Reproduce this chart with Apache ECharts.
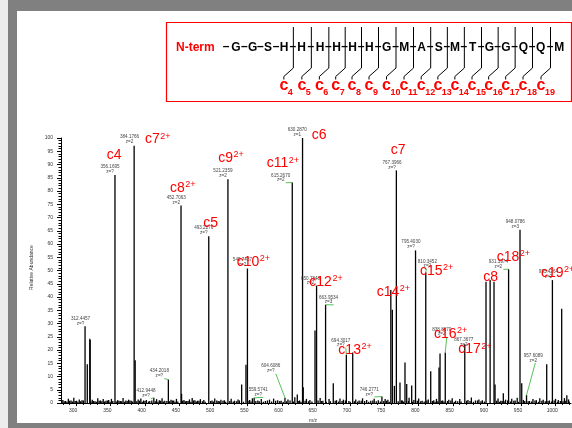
<!DOCTYPE html>
<html><head><meta charset="utf-8">
<script src="https://cdn.jsdelivr.net/npm/echarts@6/dist/echarts.min.js"></script>
<style>html,body{margin:0;padding:0;background:#fff}#c{width:572px;height:428px}</style>
</head><body><div id="c"></div>
<script>
// ---------- DATA ----------
const labeledMz  = [312.4457, 356.1695, 384.1766, 412.9448, 434.2018, 452.7063, 493.2276, 521.2359, 549.7437, 559.5741, 604.6086, 615.2670, 630.2870, 650.7848, 663.9534, 694.3017, 746.2771, 767.3966, 795.4030, 810.3452, 838.8670, 867.3677, 931.3974, 948.0786, 957.6089, 995.4264];
const labeledInt = [29.0, 86.0, 97.1, 2.0, 8.9, 74.5, 62.9, 84.4, 50.8, 2.0, 2.0, 83.2, 100, 44.3, 37.1, 18.2, 2.5, 87.8, 57.6, 49.3, 19.1, 22.2, 50.5, 65.4, 3.0, 46.4];
const labeledZ   = ['z=?','z=?','z=2','z=?','z=?','z=2','z=?','z=2','z=2','z=?','z=?','z=2','z=1','z=2','z=3','z=?','z=?','z=?','z=?','z=2','z=2','z=2','z=2','z=3','z=2','z=2'];

const peakMz  = [315.7, 319.4, 319.9, 385.7, 453.5, 541.3, 547.6, 622.6, 631.3, 648.5, 675.2, 703.6, 759.3, 761.5, 764.5, 772.7, 780.0, 782.5, 789.8, 817.6, 829.7, 831.2, 898.4, 904.4, 910.1, 911.6, 923.7, 950.6, 987.1, 1009.0, 1016.5];
const peakInt = [14.7, 24.3, 23.8, 16.2, 3.5, 7.0, 14.5, 3.2, 6.0, 27.4, 7.5, 19.1, 42.7, 35.2, 6.5, 7.8, 15.3, 7.2, 6.6, 12.0, 13.4, 18.7, 45.8, 46.4, 45.8, 7.0, 3.7, 7.5, 14.7, 35.6, 3.0];

const noiseMz = [280,284,288,292,296,300,304,308,323,327,331,335,339,343,347,351,360,364,368,372,376,380,390,394,398,402,407,417,421,425,429,438,442,446,457,461,465,469,473,477,481,486,498,502,507,511,516,526,531,536,553,557,565,570,576,582,588,594,599,609,619,626,636,641,656,660,669,680,685,690,698,708,713,718,724,730,735,741,751,755,776,786,793,800,805,814,822,826,835,844,849,854,860,872,877,883,888,893,916,920,927,936,941,944,953,962,967,972,977,982,991,1000,1004,1013,1019];
const noiseInt = [1.2,0.8,1.6,1.0,2.0,0.9,1.4,1.1,1.3,0.7,
 1.8,1.0,1.5,0.9,1.2,1.6,1.1,0.8,1.9,1.0,
 1.3,0.9,1.4,1.7,1.0,1.2,0.8,1.5,1.1,1.8,
 0.9,1.3,1.0,1.6,1.2,0.8,1.4,1.9,1.1,0.9,
 1.5,1.2,1.0,1.7,0.8,1.3,1.1,1.6,0.9,1.4,
 1.2,1.8,1.0,1.5,0.8,1.3,1.7,1.1,0.9,1.4,
 2.2,1.0,1.6,1.2,1.9,0.9,1.5,1.1,1.7,1.3,
 0.8,1.4,1.0,1.8,1.2,0.9,1.6,1.1,1.5,1.3,
 1.0,2.0,1.2,1.7,0.9,1.4,1.1,1.6,1.0,1.3,
 1.8,0.9,1.5,1.2,2.1,1.0,1.4,1.1,1.7,0.9,
 1.3,1.6,1.0,2.0,1.2,0.8,1.5,1.1,1.8,1.3,
 1.0,1.6,1.2,1.9,1.4];
const noise2Mz  = [282,286,290,294,298,302,306,310,321,325,329,333,337,341,345,349,353,358,362,366,370,374,378,382,388,392,396,400,405,410,415,419,423,427,432,436,440,444,448,455,459,463,467,471,475,479,484,488,496,500,505,509,514,518,524,529,534,538,544,552,555,562,567,573,579,585,591,597,602,607,612,617,624,628,634,639,644,653,658,665,671,678,683,688,693,700,706,711,716,721,727,733,738,744,749,753,757,770,775,778,785,791,798,803,808,812,820,824,828,833,837,842,847,852,857,862,870,875,880,886,891,896,914,918,922,926,930,934,939,946,955,960,965,970,975,980,985,989,994,998,1003,1007,1011,1015,1020];
const noise2Int = [0.7,0.5,0.9,0.6,0.8,0.5,0.7,1.0,0.6,0.8,
 0.5,0.9,0.7,0.6,1.0,0.5,0.8,0.6,0.9,0.7,
 0.5,0.8,1.0,0.6,0.7,0.9,0.5,0.8,0.6,1.0,
 0.7,0.5,0.9,0.6,0.8,0.7,1.0,0.5,0.6,0.9,
 0.7,0.8,0.5,1.0,0.6,0.9,0.7,0.5,0.8,0.6,
 1.0,0.7,0.9,0.5,0.8,0.6,0.7,1.0,0.5,0.9,
 0.6,0.8,0.7,0.5,1.0,0.6,0.9,0.8,0.5,0.7,
 1.0,0.6,0.8,0.5,0.9,0.7,0.6,1.0,0.8,0.5,
 0.7,0.9,0.6,0.8,1.0,0.5,0.7,0.6,0.9,0.8,
 0.5,1.0,0.7,0.6,0.8,0.9,0.5,0.7,1.0,0.6,
 0.8,0.5,0.9,0.7,0.6,1.0,0.8,0.5,0.7,0.9,
 0.6,0.8,1.0,0.5,0.7,0.6,0.9,0.8,0.5,1.0,
 0.7,0.6,0.9,0.5,0.8,0.7,1.0,0.6,0.9,0.5,
 0.8,0.7,0.6,1.0,0.5,0.9,0.7,0.8,0.6,1.0,
 0.5,0.8,0.7,0.9,0.6];

const ionName = ['c4','c7','c8','c5','c9','c11','c6','c10','c12','c13','c14','c7','c15','c16','c17','c8','c18','c19'];
const ionSup  = ['','2+','2+','','2+','2+','','2+','2+','2+','2+','','2+','2+','2+','','2+','2+'];

const xTickLabels = [300,350,400,450,500,550,600,650,700,750,800,850,900,950,1000];
const xMinorTicks = [280,290,310,320,330,340,360,370,380,390,410,420,430,440,460,470,480,490,510,520,530,540,560,570,580,590,610,620,630,640,660,670,680,690,710,720,730,740,760,770,780,790,810,820,830,840,860,870,880,890,910,920,930,940,960,970,980,990,1010,1020];

const sequence = ['G','G','S','H','H','H','H','H','H','G','M','A','S','M','T','G','G','Q','Q','M'];
const cleavageIons = [4,5,6,7,8,9,10,11,12,13,14,15,16,17,18,19];

// ---------- LAYOUT (pixel offsets / anchors, not data) ----------
const labelLayout = [[-4.5,-7.5,0,5],[-5,-8,0,5],[-4.6,-8.5,0,5],[-7.8,-6.6,1,5],[-9,-8.3,1,5],[-4.7,-7.7,0,5],[-5,-8.7,0,5],[-5,-8.3,0,5],[-5,-8.3,0,5],[4.1,-7.9,1,5],[-14.2,-31.6,1,5],[-11.6,-7.3,1,5],[-5.2,-8.3,0,5],[-6,-7.3,1,5],[3,-7.4,1,5],[-5.5,-14.6,1,5],[-12.6,-7,1,5],[-4.3,-7.7,0,5],[-4.6,-8.4,0,5],[1.6,-11,1,-1],[-3.5,-23.2,1,5],[-1,-4.5,0,5],[-10.2,-7.4,1,5],[-4.7,-7.7,0,5],[6.8,-39.7,1,2],[-4,-8.4,0,5]];
const ionAnchor = [[344.0,93.6],[400.0,99.4],[436.6,81.1],[485.2,68.0],[507.2,92.3],[577.9,90.4],[643.7,101.2],[534.1,53.2],[640.2,45.6],[682.6,20.0],[738.7,41.8],[759.1,95.6],[802.0,49.7],[822.4,26.0],[857.9,20.2],[894.5,47.7],[914.1,55.2],[978.8,49.2]];
const seqLayoutX = [236,252.7,268,284,301.7,320,336.7,352.7,369.3,386.7,404.3,421.7,438.7,455,472.7,489.3,506,523.3,540.7,559.3];

const FF = '"Liberation Sans", Arial, Helvetica, sans-serif';
const mctx = document.createElement('canvas').getContext('2d');
function tw(t, font){ mctx.font = font; return mctx.measureText(t).width; }

const sticks = [];
labeledMz.forEach((m,i)=>sticks.push([m, labeledInt[i], 1.3]));
peakMz.forEach((m,i)=>sticks.push([m, peakInt[i], 1.3]));
noiseMz.forEach((m,i)=>{ if(i<noiseInt.length) sticks.push([m, noiseInt[i], 1.3]); });
noise2Mz.forEach((m,i)=>{ if(i<noise2Int.length) sticks.push([m, noise2Int[i], 1.3]); });

const graphic = [
  {type:'rect', z:-100, shape:{x:0,y:0,width:8,height:428}, style:{fill:'#ededed'}},
  {type:'rect', z:-99, shape:{x:17,y:11,width:555,height:412}, style:{fill:'#ffffff'}},
  {type:'rect', z:1, shape:{x:166.5,y:22.5,width:405,height:79}, style:{fill:'none', stroke:'#ff0000', lineWidth:1.2}},
  {type:'text', z:1, x:176, y:47.5, style:{text:'N-term', font:'bold 12px '+FF, fill:'#ff0000', align:'left', verticalAlign:'middle'}}
];
sequence.forEach((r,i)=>{
  const x = seqLayoutX[i];
  graphic.push({type:'text', z:1, x:x, y:47.5, style:{text:r, font:'bold 12px '+FF, fill:'#000', align:'center', verticalAlign:'middle'}});
  const dxm = i===0 ? x-10 : (seqLayoutX[i-1]+x)/2;
  graphic.push({type:'text', z:1, x:dxm, y:47, style:{text:'–', font:'bold 12px '+FF, fill:'#000', align:'center', verticalAlign:'middle'}});
});
cleavageIons.forEach(n=>{
  const xc = (seqLayoutX[n-1]+seqLayoutX[n])/2 + 0.5;
  graphic.push({type:'polyline', z:2, shape:{points:[[xc,27],[xc,68],[xc-9.5,76.5],[xc-9.5,79.5]]}, style:{stroke:'#000', lineWidth:1, fill:'none'}});
  graphic.push({type:'text', z:2, x:xc-9.5, y:86, style:{text:'c', font:'bold 16px '+FF, fill:'#ff0000', align:'center', verticalAlign:'middle'}});
  graphic.push({type:'text', z:2, x:xc-5.5, y:92.5, style:{text:String(n), font:'bold 9px '+FF, fill:'#ff0000', align:'left', verticalAlign:'middle'}});
});

const chart = echarts.init(document.getElementById('c'), null, {renderer:'canvas'});
chart.setOption({
  backgroundColor:'#808080',
  animation:false,
  graphic: graphic,
  grid:{left:61, right:1, top:138, bottom:22, containLabel:false},
  xAxis:[{
    type:'value', min:277.3, max:1022.6,
    name:'m/z', nameLocation:'middle', nameGap:11,
    nameTextStyle:{fontSize:5, color:'#333', fontFamily:FF, padding:[0,6,0,0]},
    axisLine:{show:true, onZero:false, lineStyle:{color:'#000', width:1}},
    axisTick:{show:true, length:3, customValues:xTickLabels, lineStyle:{color:'#000'}},
    axisLabel:{show:true, customValues:xTickLabels, formatter:function(v){return String(v);}, fontSize:5, color:'#333', fontFamily:FF, margin:5, padding:[0,6.6,0,0]},
    splitLine:{show:false}
  },{
    type:'value', min:277.3, max:1022.6, position:'bottom',
    axisLine:{show:false},
    axisTick:{show:true, length:1.8, customValues:xMinorTicks, lineStyle:{color:'#000'}},
    axisLabel:{show:false}, splitLine:{show:false}
  }],
  yAxis:{
    type:'value', min:0, max:100, interval:5,
    name:'Relative Abundance', nameLocation:'middle', nameGap:17.5,
    nameTextStyle:{fontSize:5, color:'#333', fontFamily:FF, padding:[0,0,0,6]},
    axisLine:{show:true, lineStyle:{color:'#000', width:1}},
    axisTick:{show:true, length:4, lineStyle:{color:'#000'}},
    minorTick:{show:true, splitNumber:5, length:2.5, lineStyle:{color:'#000'}},
    axisLabel:{fontSize:5, color:'#333', fontFamily:FF, margin:8},
    splitLine:{show:false}
  },
  series:[
    {
      type:'custom', coordinateSystem:'cartesian2d', xAxisIndex:0, yAxisIndex:0,
      data:sticks, encode:{x:0, y:1}, z:3, clip:false,
      renderItem:function(params, api){
        const p0 = api.coord([api.value(0), 0]);
        const p1 = api.coord([api.value(0), api.value(1)]);
        return {type:'line', shape:{x1:p0[0], y1:p0[1], x2:p1[0], y2:p1[1]}, style:{stroke:'#000', lineWidth:api.value(2)}};
      }
    },
    {
      type:'custom', coordinateSystem:'cartesian2d', xAxisIndex:0, yAxisIndex:0,
      data:labeledMz.map((m,i)=>[m, labeledInt[i], i]), encode:{x:0, y:1}, z:4, clip:false,
      renderItem:function(params, api){
        const i = api.value(2);
        const p = api.coord([api.value(0), api.value(1)]);
        const L = labelLayout[i];
        const cx = p[0] + L[0], y1 = p[1] + L[1];
        const f = '4.6px '+FF;
        const ch = [];
        if (L[2]) ch.push({type:'line', shape:{x1:cx+L[3], y1:y1+7.5, x2:p[0], y2:p[1]}, style:{stroke:'#44bb44', lineWidth:0.9}});
        ch.push({type:'text', x:cx, y:y1, style:{text:labeledMz[i].toFixed(4), font:f, fill:'#444', align:'center', verticalAlign:'middle'}});
        ch.push({type:'text', x:cx, y:y1+4.8, style:{text:labeledZ[i], font:f, fill:'#444', align:'center', verticalAlign:'middle'}});
        return {type:'group', children:ch};
      }
    },
    {
      type:'custom', coordinateSystem:'cartesian2d', xAxisIndex:0, yAxisIndex:0,
      data:ionAnchor.map((a,i)=>[a[0], a[1], i]), encode:{x:0, y:1}, z:5, clip:false,
      renderItem:function(params, api){
        const i = api.value(2);
        const p = api.coord([api.value(0), api.value(1)]);
        const f1 = '14px '+FF, f2 = '9px '+FF;
        const w = tw(ionName[i], f1);
        const ch = [{type:'text', x:p[0], y:p[1], style:{text:ionName[i], font:f1, fill:'#ff0000', align:'left', verticalAlign:'middle'}}];
        if (ionSup[i]) ch.push({type:'text', x:p[0]+w+0.5, y:p[1]-3.4, style:{text:ionSup[i], font:f2, fill:'#ff0000', align:'left', verticalAlign:'middle'}});
        return {type:'group', children:ch};
      }
    }
  ]
});
</script></body></html>
